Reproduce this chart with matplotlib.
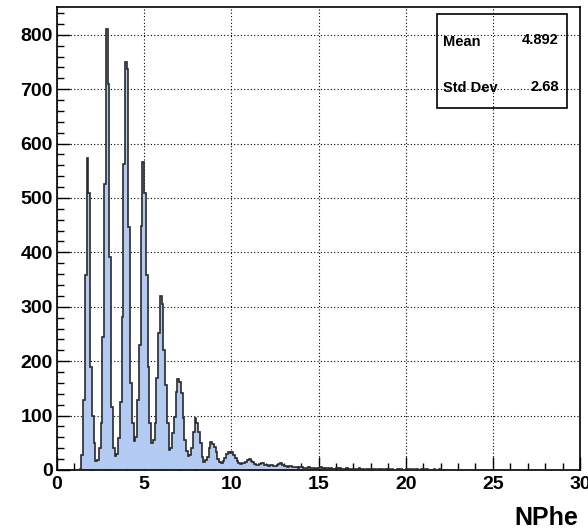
import numpy as np
import matplotlib
matplotlib.use("Agg")
import matplotlib.pyplot as plt
from matplotlib.patches import Rectangle
from matplotlib.ticker import MultipleLocator

# Histogram contents: bins of width 0.1 starting at NPhe = 1.3
bin_width = 0.1
first_edge = 1.3
counts = [
    2, 28, 129, 358, 573, 509, 190, 100, 50, 17,          # 1.3 - 2.2
    18, 40, 86, 245, 526, 811, 710, 392, 116, 40,         # 2.3 - 3.2
    25, 30, 59, 125, 282, 562, 750, 737, 447, 160,        # 3.3 - 4.2
    86, 54, 60, 129, 230, 448, 566, 510, 358, 190,        # 4.3 - 5.2
    86, 50, 55, 86, 169, 252, 319, 305, 220, 156,         # 5.3 - 6.2
    86, 37, 40, 68, 98, 144, 167, 162, 141, 95,           # 6.3 - 7.2
    55, 35, 25, 28, 40, 70, 96, 86, 70, 50,               # 7.3 - 8.2
    24, 15, 18, 24, 40, 52, 48, 42, 34, 21,               # 8.3 - 9.2
    15, 12, 16, 22, 30, 34, 31, 33, 28, 22,               # 9.3 - 10.2
    16, 12, 11, 13, 12, 15, 18, 20, 17, 14,               # 10.3 - 11.2
    11, 9, 10, 11, 13, 12, 10, 9, 8, 10,                  # 11.3 - 12.2
    9, 7, 8, 9, 11, 13, 10, 8, 7, 6,                      # 12.3 - 13.2
    8, 7, 5, 6, 5, 4, 5, 6, 4, 3,                         # 13.3 - 14.2
    4, 5, 3, 4, 3, 2, 4, 3, 5, 3,                         # 14.3 - 15.2
    2, 3, 4, 2, 3, 2, 1, 3, 2, 4,                         # 15.3 - 16.2
    2, 1, 2, 3, 2, 1, 2, 1, 1, 2,                         # 16.3 - 17.2
    3, 1, 1, 0, 1, 2, 1, 0, 1, 1,                         # 17.3 - 18.2
    0, 2, 1, 1, 0, 1, 2, 1, 0, 1,                         # 18.3 - 19.2
    0, 0, 1, 0, 1, 0, 0, 2, 1, 1,                         # 19.3 - 20.2
    0, 1, 0, 1, 0, 0, 1, 0, 1, 1,                         # 20.3 - 21.2
    0, 0, 0, 1, 0, 0, 1,                                  # 21.3 - 21.9
]
stat_labels = ["Mean", "Std Dev"]
stat_values = ["4.892", "2.68"]

x_range = (0, 30)
y_range = (0, 851)

edges = first_edge + bin_width * np.arange(len(counts) + 1)

fig = plt.figure(figsize=(5.88, 5.28), dpi=100)
ax = fig.add_axes([57 / 588, 58 / 528, 523 / 588, 463 / 528])

# Grid (dotted, ROOT style)
ax.set_axisbelow(True)
ax.grid(True, color="black", linestyle=(0, (1, 2)), linewidth=0.8)

# Histogram: filled area then outline
ax.stairs(counts, edges, fill=True, color="#b3cbf2", baseline=0, zorder=2)
ax.stairs(counts, edges, color="#2a2a2a", linewidth=1.2, baseline=0, zorder=3)

ax.set_xlim(*x_range)
ax.set_ylim(*y_range)

ax.xaxis.set_major_locator(MultipleLocator(5))
ax.xaxis.set_minor_locator(MultipleLocator(1))
ax.yaxis.set_major_locator(MultipleLocator(100))
ax.yaxis.set_minor_locator(MultipleLocator(20))

label_font = {"family": "Liberation Sans", "weight": "bold", "size": 14}
ax.tick_params(which="both", direction="in", top=False, right=False, width=1)
ax.tick_params(which="major", length=9.5)
ax.tick_params(which="minor", length=4.8)
ax.tick_params(axis="x", which="major", pad=4.5)
ax.tick_params(axis="y", which="major", pad=3)
for label in ax.get_xticklabels() + ax.get_yticklabels():
    label.set_fontproperties(label_font)

for spine in ax.spines.values():
    spine.set_linewidth(1.2)

# Axis title at the right end, ROOT style
fig.text(578 / 588, 1 - 525 / 528, "NPhe", ha="right", va="baseline",
         family="Liberation Sans", weight="bold", fontsize=18)

# Statistics box (transparent, grid shows through)
box = Rectangle((437 / 588, 1 - 108 / 528), 130 / 588, 94 / 528,
                transform=fig.transFigure, fill=False, edgecolor="black",
                linewidth=1.2)
fig.patches.append(box)
name_rows = [42, 88]
value_rows = [40, 87]
for name, value, y_name, y_value in zip(stat_labels, stat_values,
                                        name_rows, value_rows):
    fig.text(443 / 588, 1 - y_name / 528, name, ha="left", va="center",
             family="Liberation Sans", weight="bold", fontsize=10.5)
    fig.text(559 / 588, 1 - y_value / 528, value, ha="right", va="center",
             family="Liberation Sans", weight="bold", fontsize=10.5)

fig.savefig("out.png", dpi=100)
plt.close(fig)
